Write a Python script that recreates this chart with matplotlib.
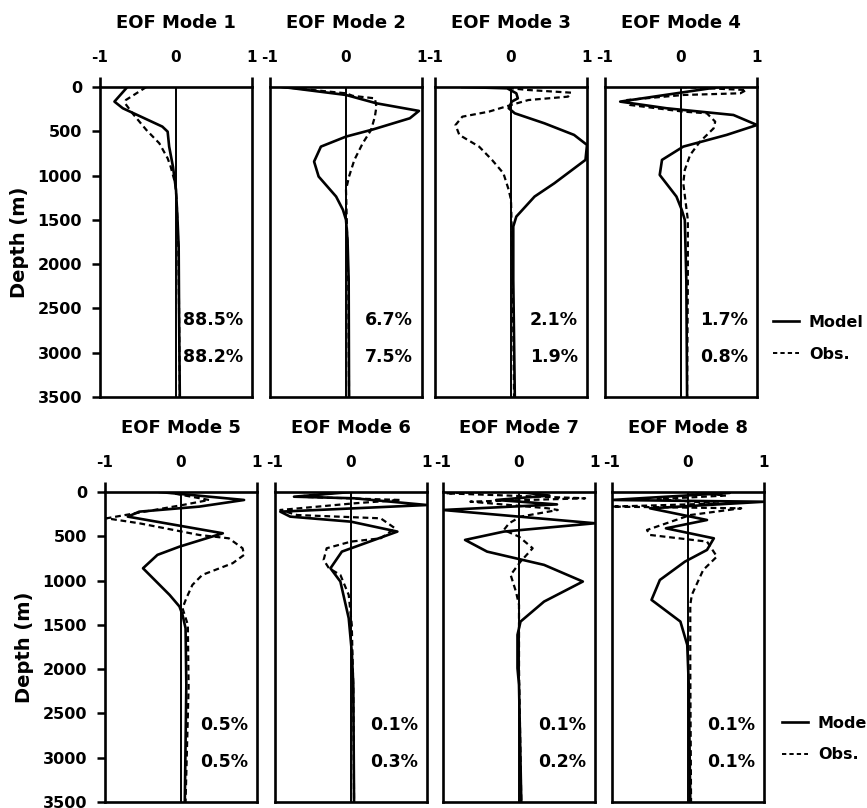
import numpy as np
import matplotlib
matplotlib.use("Agg")
import matplotlib.pyplot as plt

plt.rcParams['font.family'] = ['DejaVu Sans']
plt.rcParams['font.weight'] = 'bold'

titles = ["EOF Mode %d" % i for i in range(1, 9)]
pct_model = ["88.5%", "6.7%", "2.1%", "1.7%", "0.5%", "0.1%", "0.1%", "0.1%"]
pct_obs = ["88.2%", "7.5%", "1.9%", "0.8%", "0.5%", "0.3%", "0.2%", "0.1%"]
depth_ticks = [0, 500, 1000, 1500, 2000, 2500, 3000, 3500]

# model (solid) profiles: depth (m), amplitude
model_d = [
    [0, 165, 240, 447, 504, 673, 900, 1160, 1500, 1800, 2500, 3500],
    [0, 15, 90, 184, 270, 353, 478, 560, 673, 842, 1011, 1237, 1387, 1500, 1726, 2177, 3500],
    [0, 15, 71, 128, 165, 240, 297, 410, 541, 654, 823, 1087, 1237, 1463, 1575, 2177, 3500],
    [0, 165, 240, 316, 429, 541, 673, 823, 993, 1237, 1387, 1500, 2177, 3500],
    [0, 90, 165, 222, 278, 466, 617, 710, 861, 1162, 1293, 1387, 1538, 2177, 3500],
    [0, 53, 71, 147, 222, 278, 335, 447, 673, 861, 1011, 1425, 1800, 2177, 3500],
    [0, 40, 90, 140, 203, 353, 447, 541, 673, 823, 1011, 1237, 1463, 1613, 1989, 2177, 3500],
    [0, 10, 90, 110, 184, 316, 410, 523, 654, 786, 993, 1218, 1463, 1726, 2177, 3500],
]
model_v = [
    [-0.64, -0.81, -0.70, -0.18, -0.11, -0.09, -0.04, 0.0, 0.02, 0.035, 0.04, 0.05],
    [-0.84, -0.69, 0.0, 0.4, 0.96, 0.84, 0.36, 0.0, -0.33, -0.42, -0.36, -0.13, -0.04, 0.0, 0.02, 0.035, 0.04],
    [-0.64, -0.05, 0.07, 0.09, 0.01, -0.03, 0.05, 0.44, 0.83, 1.0, 0.98, 0.57, 0.31, 0.07, 0.03, 0.03, 0.05],
    [0.5, -0.8, -0.19, 0.69, 1.0, 0.6, 0.03, -0.25, -0.28, -0.06, 0.01, 0.05, 0.07, 0.08],
    [-0.28, 0.83, 0.24, -0.55, -0.7, 0.55, -0.02, -0.31, -0.5, -0.15, -0.02, 0.02, 0.06, 0.07, 0.05],
    [0.0, -0.75, 0.04, 1.0, -0.93, -0.8, 0.0, 0.61, -0.12, -0.27, -0.14, -0.03, 0.01, 0.03, 0.04],
    [0.0, 0.4, -0.3, 0.5, -1.0, 1.0, -0.2, -0.71, -0.42, 0.33, 0.84, 0.33, 0.02, -0.02, -0.02, 0.0, 0.03],
    [0.0, 0.55, -1.0, 1.0, -0.5, 0.25, -0.29, 0.34, 0.25, -0.04, -0.37, -0.48, -0.1, -0.01, 0.01, 0.03],
]

# observed (dashed) profiles
obs_d = [
    [0, 147, 184, 300, 485, 635, 805, 900, 1090, 1300, 1800, 2500, 3500],
    [0, 71, 100, 128, 222, 335, 485, 635, 823, 1011, 1162, 1500, 2200, 3500],
    [0, 15, 34, 64, 109, 147, 203, 278, 335, 429, 541, 673, 823, 974, 1162, 1275, 2000, 3500],
    [0, 34, 71, 90, 147, 203, 278, 297, 391, 466, 617, 767, 936, 1087, 1500, 2200, 3500],
    [0, 90, 147, 297, 353, 485, 523, 635, 710, 804, 936, 1049, 1200, 1312, 1500, 2200, 3500],
    [0, 53, 90, 128, 203, 260, 297, 410, 523, 560, 635, 767, 861, 936, 1162, 1500, 2200, 3500],
    [0, 15, 71, 109, 184, 203, 278, 353, 429, 504, 635, 786, 936, 1125, 1275, 2000, 3500],
    [0, 40, 80, 130, 165, 184, 260, 429, 485, 560, 729, 880, 1162, 1275, 2000, 3500],
]
obs_v = [
    [-0.39, -0.66, -0.67, -0.57, -0.39, -0.22, -0.11, -0.07, -0.01, 0.01, 0.03, 0.04, 0.05],
    [-0.84, 0.0, 0.09, 0.38, 0.40, 0.38, 0.33, 0.22, 0.11, 0.04, 0.0, 0.01, 0.03, 0.04],
    [-0.29, 0.0, 0.23, 0.79, 0.75, 0.23, 0.0, -0.29, -0.64, -0.73, -0.68, -0.42, -0.25, -0.1, -0.03, 0.0, 0.02, 0.04],
    [0.0, 0.86, 0.78, 0.03, -0.71, -0.67, 0.03, 0.34, 0.45, 0.43, 0.25, 0.12, 0.05, 0.03, 0.09, 0.09, 0.08],
    [-0.2, 0.37, 0.02, -0.98, -0.55, 0.24, 0.63, 0.81, 0.83, 0.68, 0.28, 0.15, 0.07, 0.02, 0.09, 0.1, 0.06],
    [-0.1, -0.71, 0.65, 0.04, -0.93, -0.71, 0.39, 0.58, 0.39, 0.0, -0.32, -0.36, -0.29, -0.14, -0.03, 0.01, 0.03, 0.04],
    [-0.5, -0.96, 0.87, -0.64, 0.38, 0.51, 0.02, -0.13, -0.2, 0.0, 0.18, 0.02, -0.11, -0.04, 0.0, 0.0, 0.03],
    [0.0, 0.5, -0.4, 0.4, -1.0, 0.7, 0.03, -0.54, -0.5, 0.25, 0.38, 0.2, 0.05, 0.03, 0.03, 0.04],
]

W, H = 867, 808
fig = plt.figure(figsize=(W / 100, H / 100), dpi=100)

# panel left edges in pixels, per row
lefts = [[100, 270, 435, 605], [105, 275, 443, 612]]
tops = [87, 492]
pw, ph = 152, 310

for k in range(8):
    row, col = k // 4, k % 4
    x0 = lefts[row][col]
    y0 = tops[row]
    ax = fig.add_axes([x0 / W, 1 - (y0 + ph) / H, pw / W, ph / H])
    ax.plot(model_v[k], model_d[k], color='black', lw=1.9)
    ax.plot(obs_v[k], obs_d[k], color='black', lw=1.6, linestyle=(0, (2.6, 1.7)))
    ax.axvline(0, color='black', lw=1.4)
    ax.set_xlim(-1, 1)
    ax.set_ylim(3500, 0)
    for s in ax.spines.values():
        s.set_linewidth(1.9)

    ax.xaxis.tick_top()
    ax.set_xticks([-1, 0, 1])
    ax.set_xticklabels(["-1", "0", "1"])
    ax.tick_params(axis='x', direction='out', length=7, width=1.9, pad=9,
                   labelsize=11)
    ax.xaxis.get_major_ticks()[1].tick2line.set_visible(False)

    ax.set_yticks(depth_ticks)
    if col == 0:
        ax.tick_params(axis='y', direction='out', length=6, width=1.8, pad=7,
                       labelsize=11.5)
        ax.set_ylabel("Depth (m)", fontsize=14, fontweight='bold')
        ax.yaxis.set_label_coords(-0.47, 0.5)
    else:
        ax.tick_params(axis='y', length=0, labelleft=False)

    ax.text(0.5, 1.206, titles[k], transform=ax.transAxes, ha='center',
            va='center', fontsize=13, fontweight='bold')
    ax.text(0.88, 2630, pct_model[k], ha='right', va='center', fontsize=12.5,
            fontweight='bold')
    ax.text(0.88, 3050, pct_obs[k], ha='right', va='center', fontsize=12.5,
            fontweight='bold')

    if col == 3:
        hm, = ax.plot([], [], color='black', lw=1.9)
        ho, = ax.plot([], [], color='black', lw=1.4, linestyle=(0, (2.2, 1.6)))
        bx = 1.105 if row == 0 else 1.118
        by = 0.189 if row == 0 else 0.203
        leg = ax.legend([hm, ho], ["Model", "Obs."], loc='center left',
                        bbox_to_anchor=(bx, by), frameon=False, borderpad=0,
                        borderaxespad=0, handlelength=1.65, handletextpad=0.6,
                        labelspacing=1.05, prop={'size': 11.5, 'weight': 'bold'})

fig.savefig("out.png", dpi=100)
